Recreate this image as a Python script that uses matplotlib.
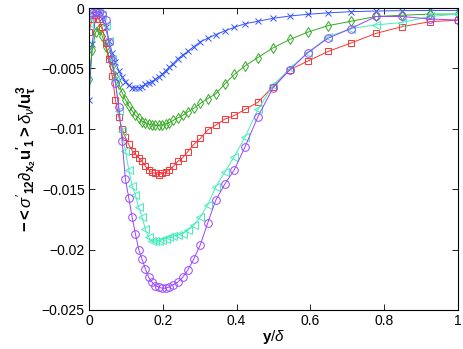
import matplotlib
matplotlib.use("Agg")
import matplotlib.pyplot as plt

plt.rcParams['font.family'] = ['Liberation Sans', 'DejaVu Sans']
plt.rcParams['mathtext.fontset'] = 'custom'
plt.rcParams['mathtext.rm'] = 'Liberation Sans'
plt.rcParams['mathtext.it'] = 'Liberation Sans:italic'
plt.rcParams['mathtext.bf'] = 'Liberation Sans:bold'

# wall-normal positions y/delta
y = [0, 0.009, 0.018, 0.027, 0.036, 0.045, 0.054, 0.063, 0.072, 0.081,
     0.090, 0.099, 0.108, 0.117, 0.126, 0.135, 0.144, 0.153, 0.162, 0.171,
     0.180, 0.189, 0.198, 0.208, 0.218, 0.229, 0.241, 0.254, 0.268, 0.284,
     0.302, 0.322, 0.344, 0.368, 0.394, 0.423, 0.458, 0.499, 0.545, 0.593,
     0.648, 0.710, 0.778, 0.848, 0.924, 1.0]

blue = [-0.0076, -0.0030, -0.0007, -0.0002, -0.0008, -0.0016, -0.0027, -0.0037, -0.0045, -0.0052,
        -0.0057, -0.0061, -0.0064, -0.0066, -0.0066, -0.0066, -0.0065, -0.0063, -0.0062, -0.0061,
        -0.0059, -0.0057, -0.0055, -0.0052, -0.0049, -0.0046, -0.0042, -0.0039, -0.0036, -0.0032,
        -0.0028, -0.0025, -0.0022, -0.0019, -0.0016, -0.0013, -0.0011, -0.00085, -0.00066, -0.00052,
        -0.0004, -0.0003, -0.00025, -0.00022, -0.0002, -0.0002]

green = [-0.0059, -0.0035, -0.0020, -0.0017, -0.0023, -0.0032, -0.0040, -0.0048, -0.0056, -0.0063,
         -0.0070, -0.0076, -0.0081, -0.0085, -0.0089, -0.0091, -0.0094, -0.0095, -0.0096, -0.0097,
         -0.0097, -0.0097, -0.0097, -0.0096, -0.0095, -0.0093, -0.0091, -0.0089, -0.0086, -0.0083,
         -0.0079, -0.0075, -0.0071, -0.0063, -0.0055, -0.0048, -0.0041, -0.0033, -0.0026, -0.0020,
         -0.00146, -0.0011, -0.0007, -0.0006, -0.0005, -0.0005]

red = [-0.0020, -0.0009, -0.0006, -0.0009, -0.0016, -0.0029, -0.0042, -0.0056, -0.0076, -0.0090,
       -0.0100, -0.0107, -0.0113, -0.0118, -0.0121, -0.0124, -0.0127, -0.0131, -0.0134, -0.0136,
       -0.0137, -0.0138, -0.0137, -0.0136, -0.0134, -0.0131, -0.0127, -0.0124, -0.0119, -0.0113,
       -0.0108, -0.0101, -0.0097, -0.0092, -0.0089, -0.0084, -0.0078, -0.0065, -0.0051, -0.0044,
       -0.0036, -0.0029, -0.0021, -0.00155, -0.00113, -0.0010]

cyan = [-0.0012, -0.0004, -0.0001, -0.0002, -0.0006, -0.0014, -0.0027, -0.0042, -0.0060, -0.0085,
        -0.0102, -0.0118, -0.0134, -0.0147, -0.0155, -0.0165, -0.0173, -0.0183, -0.0190, -0.0193,
        -0.0193, -0.0193, -0.0192, -0.0191, -0.0190, -0.0189, -0.0188, -0.0187, -0.0184, -0.0180,
        -0.0173, -0.0163, -0.0148, -0.0136, -0.0123, -0.0107, -0.0084, -0.0064, -0.0050, -0.0037,
        -0.0024, -0.0017, -0.0014, -0.0012, -0.0007, -0.0005]

purple = [-0.0006, -0.0004, -0.0003, -0.0003, -0.0005, -0.0010, -0.0028, -0.0043, -0.0062, -0.0082,
          -0.0110, -0.0142, -0.0157, -0.0173, -0.0187, -0.0200, -0.0208, -0.0216, -0.0223, -0.0227,
          -0.0230, -0.0231, -0.0232, -0.0232, -0.0231, -0.0229, -0.0227, -0.0223, -0.0217, -0.0208,
          -0.0196, -0.0178, -0.0159, -0.0146, -0.0134, -0.0115, -0.0090, -0.0066, -0.0051, -0.0037,
          -0.0025, -0.0017, -0.0007, -0.0007, -0.0009, -0.0010]

fig = plt.figure(figsize=(4.63, 3.49), dpi=100)
ax = fig.add_axes([0.192, 0.112, 0.797, 0.865])

lw = 0.7
ax.plot(y, blue, color='#3355ff', marker='x', ms=4, mew=0.7, lw=lw)
ax.plot(y, green, color='#33aa22', marker='d', ms=5.5, mew=0.7, lw=lw, mfc='none')
ax.plot(y, red, color='#ff3333', marker='s', ms=4.5, mew=0.7, lw=lw, mfc='none')
ax.plot(y, cyan, color='#44eebb', marker='<', ms=5.5, mew=0.7, lw=lw, mfc='none')
ax.plot(y, purple, color='#9944ff', marker='o', ms=5.5, mew=0.7, lw=lw, mfc='none')

ax.set_xlim(0, 1)
ax.set_ylim(-0.025, 0)
ax.set_xticks([0, 0.2, 0.4, 0.6, 0.8, 1])
ax.set_xticklabels(['0', '0.2', '0.4', '0.6', '0.8', '1'])
ax.set_yticks([-0.025, -0.02, -0.015, -0.01, -0.005, 0])
ax.set_yticklabels(['\u22120.025', '\u22120.02', '\u22120.015', '\u22120.01', '\u22120.005', '0'])
ax.tick_params(direction='in', top=True, right=True, labelsize=10, length=4, width=0.6, pad=3)
for s in ax.spines.values():
    s.set_linewidth(0.8)

ax.set_xlabel(r"$\mathbf{y}/\delta$", fontsize=11, labelpad=0)
ax.set_ylabel(r"$\mathbf{-<}\sigma'_{\mathbf{12}}\partial_{\mathbf{x_2}}\mathbf{u'_1>}\delta_\nu\mathbf{/u^3_\tau}$",
              fontsize=12, labelpad=2)

fig.savefig("out.png", dpi=100)
